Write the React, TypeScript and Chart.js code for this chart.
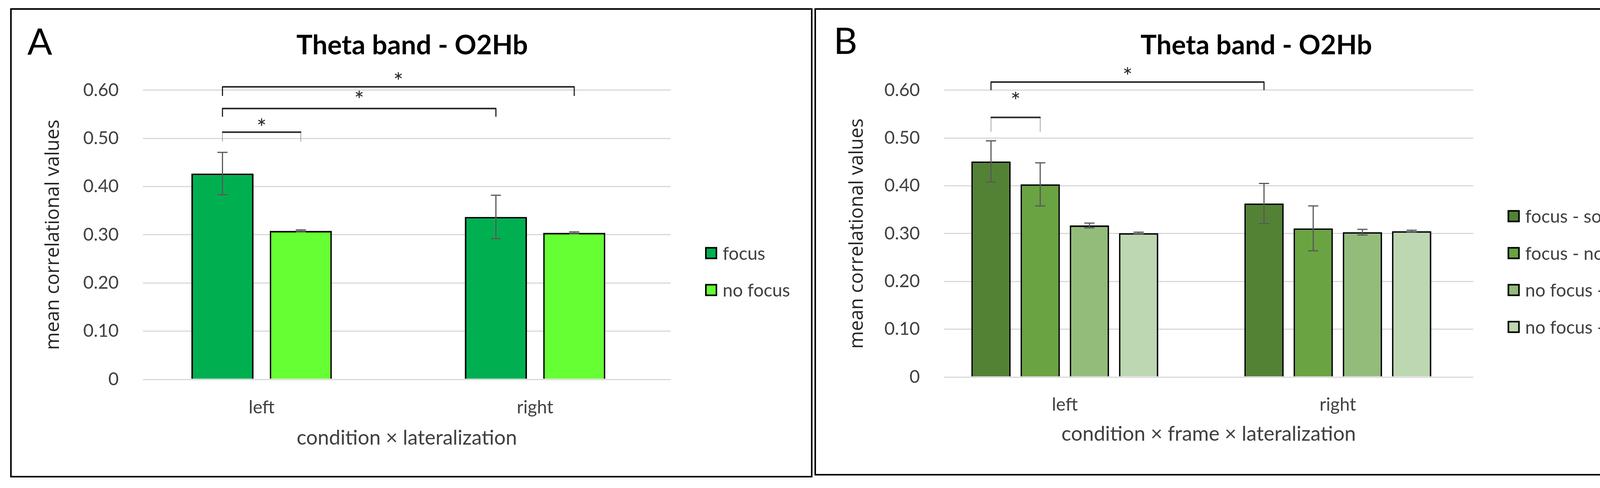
import React, { useEffect, useRef } from 'react';
import { Chart, registerables } from 'chart.js';

Chart.register(...registerables);

// ---------- shared data ----------
const CATEGORIES = ['left', 'right'];
const CATEGORY_POS = [0, 1];
const Y_MIN = 0;
const Y_MAX = 0.6;
const Y_STEP = 0.1;
const CHART_TITLE = 'Theta band - O2Hb';
const Y_TITLE = 'mean correlational values';

// ---------- panel A data ----------
const A_LABEL = 'A';
const A_X_TITLE = 'condition × lateralization';
const A_SERIES = ['focus', 'no focus'];
const A_FOCUS = [0.427, 0.337];
const A_NO_FOCUS = [0.308, 0.304];
const A_FOCUS_ERR = [0.044, 0.045];
const A_NO_FOCUS_ERR = [0.002, 0.002];
// bracket ends: [series index, category index]
const A_BRACKET_FROM = [[0, 0], [0, 0], [0, 0]];
const A_BRACKET_TO = [[1, 0], [0, 1], [1, 1]];
const A_BRACKET_LEVEL = [0.513, 0.562, 0.607];
const A_BRACKET_LEG_END = [0.493, 0.545, 0.588];
const A_BRACKET_STAR = [0.534, 0.592, 0.63];
const A_BRACKET_MARK = ['*', '*', '*'];

// ---------- panel B data ----------
const B_LABEL = 'B';
const B_X_TITLE = 'condition × frame × lateralization';
const B_SERIES = ['focus - social', 'focus - no social', 'no focus - social', 'no focus - no social'];
const B_FOCUS_SOCIAL = [0.451, 0.363];
const B_FOCUS_NO_SOCIAL = [0.403, 0.311];
const B_NO_FOCUS_SOCIAL = [0.317, 0.303];
const B_NO_FOCUS_NO_SOCIAL = [0.301, 0.305];
const B_FOCUS_SOCIAL_ERR = [0.043, 0.042];
const B_FOCUS_NO_SOCIAL_ERR = [0.045, 0.047];
const B_NO_FOCUS_SOCIAL_ERR = [0.005, 0.006];
const B_NO_FOCUS_NO_SOCIAL_ERR = [0.002, 0.002];
const B_BRACKET_FROM = [[0, 0], [0, 0]];
const B_BRACKET_TO = [[1, 0], [0, 1]];
const B_BRACKET_LEVEL = [0.543, 0.617];
const B_BRACKET_LEG_END = [0.513, 0.6];
const B_BRACKET_STAR = [0.589, 0.641];
const B_BRACKET_MARK = ['*', '*'];

// ---------- styles ----------
const A_COLORS = ['#00B050', '#66FF33'];
const B_COLORS = ['#548235', '#6AA342', '#93BC7B', '#BDD7B2'];
const A_THIN_LEGS = [true, false, false];
const B_THIN_LEGS = [true, false];

const FONT = 'Lato';
const TEXT = '#404040';

type Spec = {
  label: string;
  xTitle: string;
  series: string[];
  values: number[][];
  errors: number[][];
  colors: string[];
  bFrom: number[][];
  bTo: number[][];
  bLevel: number[];
  bLeg: number[];
  bStar: number[];
  bMark: string[];
  thinLegs: boolean[];
  left: number;
  width: number;
  padLeft: number;
  padRight: number;
  yWidth: number;
  y2Width: number;
  xHeight: number;
  xTickPad: number;
  xTitlePadBottom: number;
  yTitlePadTop: number;
  xMin: number;
  xMax: number;
  catPct: number;
  barPct: number;
  labelX: number;
  labelBaseline: number;
};

const HEIGHT = 1249;

const SPEC_A: Spec = {
  label: A_LABEL,
  xTitle: A_X_TITLE,
  series: A_SERIES,
  values: [A_FOCUS, A_NO_FOCUS],
  errors: [A_FOCUS_ERR, A_NO_FOCUS_ERR],
  colors: A_COLORS,
  bFrom: A_BRACKET_FROM,
  bTo: A_BRACKET_TO,
  bLevel: A_BRACKET_LEVEL,
  bLeg: A_BRACKET_LEG_END,
  bStar: A_BRACKET_STAR,
  bMark: A_BRACKET_MARK,
  thinLegs: A_THIN_LEGS,
  left: 0,
  width: 2080,
  padLeft: 30,
  padRight: 0,
  yWidth: 336,
  y2Width: 363,
  xHeight: 278,
  xTickPad: 37,
  xTitlePadBottom: 97,
  yTitlePadTop: 78,
  xMin: -0.434,
  xMax: 1.496,
  catPct: 0.573,
  barPct: 0.793,
  labelX: 70,
  labelBaseline: 140,
};

const SPEC_B: Spec = {
  label: B_LABEL,
  xTitle: B_X_TITLE,
  series: B_SERIES,
  values: [B_FOCUS_SOCIAL, B_FOCUS_NO_SOCIAL, B_NO_FOCUS_SOCIAL, B_NO_FOCUS_NO_SOCIAL],
  errors: [B_FOCUS_SOCIAL_ERR, B_FOCUS_NO_SOCIAL_ERR, B_NO_FOCUS_SOCIAL_ERR, B_NO_FOCUS_NO_SOCIAL_ERR],
  colors: B_COLORS,
  bFrom: B_BRACKET_FROM,
  bTo: B_BRACKET_TO,
  bLevel: B_BRACKET_LEVEL,
  bLeg: B_BRACKET_LEG_END,
  bStar: B_BRACKET_STAR,
  bMark: B_BRACKET_MARK,
  thinLegs: B_THIN_LEGS,
  left: 2080,
  width: 2296,
  padLeft: 0,
  padRight: 24,
  yWidth: 337,
  y2Width: 580.5,
  xHeight: 284,
  xTickPad: 36,
  xTitlePadBottom: 107,
  yTitlePadTop: 86,
  xMin: -0.442,
  xMax: 1.496,
  catPct: 0.721,
  barPct: 0.8,
  labelX: 54,
  labelBaseline: 138,
};

function makeAnnotations(spec: Spec) {
  return {
    id: 'annotations',
    afterDatasetsDraw(chart: any) {
      const ctx = chart.ctx as CanvasRenderingContext2D;
      const ys = chart.scales.y;
      ctx.save();
      // error bars
      spec.errors.forEach((errs, d) => {
        const meta = chart.getDatasetMeta(d);
        meta.data.forEach((bar: any, i: number) => {
          const v = spec.values[d][i];
          const top = ys.getPixelForValue(v + errs[i]);
          const bot = ys.getPixelForValue(v - errs[i]);
          ctx.strokeStyle = '#595959';
          ctx.lineWidth = 3;
          ctx.beginPath();
          ctx.moveTo(bar.x, top);
          ctx.lineTo(bar.x, bot);
          ctx.moveTo(bar.x - 13, top);
          ctx.lineTo(bar.x + 13, top);
          ctx.moveTo(bar.x - 13, bot);
          ctx.lineTo(bar.x + 13, bot);
          ctx.stroke();
        });
      });
      // significance brackets
      spec.bFrom.forEach((from, k) => {
        const to = spec.bTo[k];
        const x1 = chart.getDatasetMeta(from[0]).data[from[1]].x;
        const x2 = chart.getDatasetMeta(to[0]).data[to[1]].x;
        const yl = ys.getPixelForValue(spec.bLevel[k]);
        const ye = ys.getPixelForValue(spec.bLeg[k]);
        ctx.beginPath();
        if (spec.thinLegs[k]) {
          ctx.strokeStyle = '#A6A6A6';
          ctx.lineWidth = 2;
        } else {
          ctx.strokeStyle = '#262626';
          ctx.lineWidth = 3;
        }
        ctx.moveTo(x1, yl);
        ctx.lineTo(x1, ye);
        ctx.moveTo(x2, yl);
        ctx.lineTo(x2, ye);
        ctx.stroke();
        ctx.beginPath();
        ctx.strokeStyle = '#262626';
        ctx.lineWidth = 4;
        ctx.moveTo(x1 - 1, yl);
        ctx.lineTo(x2 + 1, yl);
        ctx.stroke();
        ctx.font = `60px ${FONT}`;
        ctx.fillStyle = '#262626';
        ctx.textAlign = 'center';
        ctx.textBaseline = 'alphabetic';
        const m = ctx.measureText(spec.bMark[k]);
        const cy = ys.getPixelForValue(spec.bStar[k]);
        const base = cy + (m.actualBoundingBoxAscent - m.actualBoundingBoxDescent) / 2;
        ctx.fillText(spec.bMark[k], (x1 + x2) / 2, base);
      });
      ctx.restore();
    },
    afterDraw(chart: any) {
      const ctx = chart.ctx as CanvasRenderingContext2D;
      const area = chart.chartArea;
      ctx.save();
      const n = spec.series.length;
      const gap = 94.5;
      const mid = 695;
      const bx = area.right + 88;
      spec.series.forEach((name, i) => {
        const cy = mid + (i - (n - 1) / 2) * gap;
        ctx.fillStyle = spec.colors[i];
        ctx.fillRect(bx, cy - 15.5, 31, 31);
        ctx.strokeStyle = '#000';
        ctx.lineWidth = 4;
        ctx.strokeRect(bx + 2, cy - 13.5, 27, 27);
        ctx.fillStyle = TEXT;
        ctx.font = `46px ${FONT}`;
        ctx.textAlign = 'left';
        ctx.textBaseline = 'middle';
        ctx.fillText(name, bx + 45, cy + 2);
      });
      ctx.fillStyle = '#000';
      ctx.font = `94px ${FONT}`;
      ctx.textAlign = 'left';
      ctx.textBaseline = 'alphabetic';
      ctx.fillText(spec.label, spec.labelX, spec.labelBaseline);
      ctx.restore();
    },
  };
}

function Panel({ spec }: { spec: Spec }) {
  const ref = useRef<HTMLCanvasElement | null>(null);
  useEffect(() => {
    if (!ref.current) return;
    const chart = new Chart(ref.current, {
      type: 'bar',
      data: {
        datasets: spec.series.map((label, d) => ({
          label,
          data: CATEGORY_POS.map((x, i) => ({ x, y: spec.values[d][i] })),
          backgroundColor: spec.colors[d],
          borderColor: '#000000',
          borderWidth: 4,
          categoryPercentage: spec.catPct,
          barPercentage: spec.barPct,
        })),
      },
      options: {
        animation: false,
        responsive: false,
        devicePixelRatio: 1,
        layout: { padding: { left: spec.padLeft, right: spec.padRight, top: 0, bottom: 0 } },
        plugins: {
          legend: { display: false },
          tooltip: { enabled: false },
          title: {
            display: true,
            text: CHART_TITLE,
            color: '#000000',
            font: { family: FONT, size: 69, weight: 'bold' },
            padding: { top: 75, bottom: 73 },
          },
        },
        scales: {
          x: {
            type: 'linear',
            offset: false,
            min: spec.xMin,
            max: spec.xMax,
            grid: { display: false, offset: false },
            border: { display: false },
            afterBuildTicks: (s: any) => {
              s.ticks = CATEGORY_POS.map((v) => ({ value: v }));
            },
            ticks: {
              callback: (v: any) => CATEGORIES[CATEGORY_POS.indexOf(Number(v))] ?? '',
              padding: spec.xTickPad,
              color: TEXT,
              font: { family: FONT, size: 46 },
              maxRotation: 0,
            },
            title: {
              display: true,
              text: spec.xTitle,
              color: TEXT,
              font: { family: FONT, size: 52 },
              padding: { top: 0, bottom: spec.xTitlePadBottom },
            },
            afterFit: (s: any) => {
              s.height = spec.xHeight;
            },
          },
          y: {
            position: 'left',
            min: Y_MIN,
            max: Y_MAX,
            grid: { color: '#D9D9D9', lineWidth: 3, drawTicks: false },
            border: { display: false },
            ticks: {
              stepSize: Y_STEP,
              padding: 62,
              color: TEXT,
              font: { family: FONT, size: 46 },
              callback: (v: any) => (Number(v) === 0 ? '0' : Number(v).toFixed(2)),
            },
            title: {
              display: true,
              text: Y_TITLE,
              color: '#262626',
              font: { family: 'Open Sans', size: 49 },
              padding: { top: spec.yTitlePadTop, bottom: 0 },
            },
            afterFit: (s: any) => {
              s.width = spec.yWidth;
            },
          },
          y2: {
            position: 'right',
            min: 0,
            max: 1,
            grid: { display: false },
            border: { display: false },
            ticks: { display: false },
            afterFit: (s: any) => {
              s.width = spec.y2Width;
            },
          },
        },
      } as any,
      plugins: [makeAnnotations(spec)],
    });
    return () => chart.destroy();
  }, [spec]);
  return (
    <canvas
      ref={ref}
      width={spec.width}
      height={HEIGHT}
      style={{ position: 'absolute', left: spec.left, top: 0, width: spec.width, height: HEIGHT }}
    />
  );
}

export default function App() {
  return (
    <div
      style={{
        position: 'absolute',
        left: 0,
        top: 0,
        width: 4376,
        height: HEIGHT,
        background: '#ffffff',
        overflow: 'hidden',
      }}
    >
      <Panel spec={SPEC_A} />
      <Panel spec={SPEC_B} />
      <div
        style={{
          position: 'absolute',
          left: 26,
          top: 21,
          width: 2054,
          height: 1201,
          border: '4px solid #000',
          boxSizing: 'border-box',
          pointerEvents: 'none',
        }}
      />
      <div
        style={{
          position: 'absolute',
          left: 2085,
          top: 21,
          width: 2268,
          height: 1196,
          border: '4px solid #000',
          boxSizing: 'border-box',
          pointerEvents: 'none',
        }}
      />
    </div>
  );
}
